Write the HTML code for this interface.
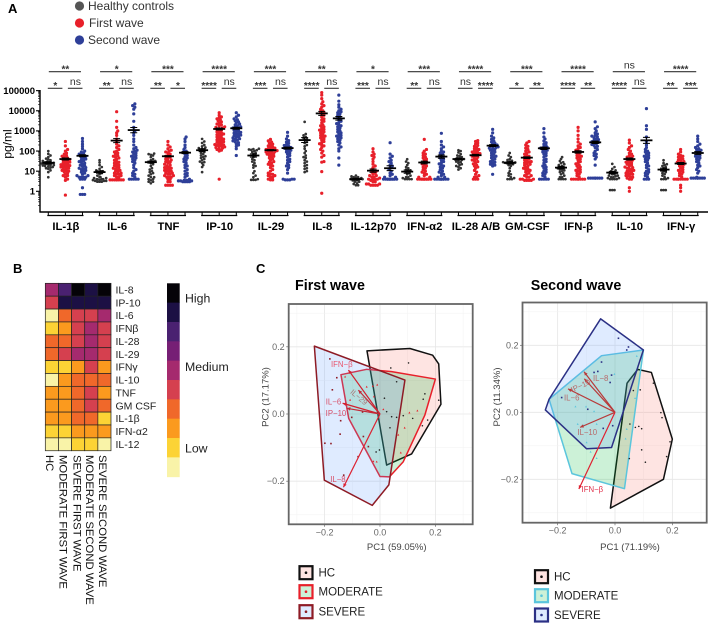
<!DOCTYPE html>
<html lang="en">
<head>
<meta charset="utf-8">
<title>Cytokine profiles figure</title>
<style>
html,body{margin:0;padding:0;background:#fff;}
svg{display:block;font-family:"Liberation Sans",Arial,sans-serif;}
</style>
</head>
<body>
<svg id="fig" width="708" height="623" viewBox="0 0 708 623" xmlns="http://www.w3.org/2000/svg">
  <rect width="708" height="623" fill="#fff"/>
  <text x="8" y="13" font-size="13" font-weight="bold">A</text>
  <text x="13" y="273" font-size="13" font-weight="bold">B</text>
  <text x="256" y="273" font-size="13" font-weight="bold">C</text>
  <g>
    <circle cx="79.5" cy="6" r="4.6" fill="#555"/>
    <text x="88" y="10" font-size="12" fill="#333">Healthy controls</text>
    <circle cx="79.5" cy="23" r="4.6" fill="#e8202a"/>
    <text x="89" y="27" font-size="12" fill="#333">First wave</text>
    <circle cx="79.5" cy="40" r="4.6" fill="#2e3f98"/>
    <text x="88" y="44" font-size="12" fill="#333">Second wave</text>
  </g>
  <g id="swarm"></g>
  <g id="heat"></g>
  <g id="pca1"></g>
  <g id="pca2"></g>
</svg>
<script>
/* ---------- Panel A data ---------- */
const cytokines = ["IL-1β","IL-6","TNF","IP-10","IL-29","IL-8","IL-12p70","IFN-α2","IL-28 A/B","GM-CSF","IFN-β","IL-10","IFN-γ"];
const yTicks = [1,10,100,1000,10000,100000];
const sigTop = ["**","*","***","****","***","**","*","***","****","***","****","ns","****"];
const sigLeft = ["*","**","**","****","***","****","***","**","ns","*","****","****","**"];
const sigRight = ["ns","ns","*","ns","ns","ns","ns","ns","****","**","**","ns","***"];
const meansHC = [26,9,28,110,60,350,4,9.5,40,26,15,8.5,12];
const meansFirst = [40,330,55,1250,110,7400,10.6,27,62,47,90,40,24];
const meansSecond = [58,1100,83,1350,140,4200,14,53,185,137,270,340,80];
const errHC = [.05,.06,.05,.07,.08,.12,.04,.08,.04,.06,.06,.06,.07];
const errFirst = [.05,.1,.03,.05,.03,.1,.08,.07,.04,.04,.06,.05,.05];
const errSecond = [.05,.13,.05,.05,.05,.09,.12,.08,.05,.06,.06,.15,.07];
const valuesHC = [
 [5,9,11,13,14,15,16,17,18,19,20,20,21,22,23,24,25,26,27,28,30,32,35,38,42,50,60,72,100],
 [3,3,3,3.3,3.3,3.3,3.6,3.6,4,4,4,4,4.5,4.5,5,5,6,7,8,9,10,10,11,13,16,20,27,35],
 [2.5,3,3,3.5,4,4,5,5,6,7,8,9,10,12,14,18,22,25,28,30,32,35,40,50,60,65,70,75],
 [9,16,20,25,28,30,35,40,45,50,55,60,70,80,90,100,110,120,130,140,150,170,200,250,300,400],
 [3.7,3.7,3.7,4,5,6,8,10,15,18,20,25,30,35,40,50,60,70,80,90,100,110,115,120,125,130],
 [9,10,13,14,18,20,25,30,35,45,50,60,80,100,130,170,200,250,300,350,400,450,500,600,700,2800],
 [2,2,2.3,2.5,3,3,3.5,3.5,4,4,4,4,4.2,4.5,4.5,5,5,5.5,6],
 [4,4,4,4,4.5,5,5,6,7,8,9,10,11,12,14,16,20,25,30,39],
 [12,14,16,18,20,22,25,28,30,33,36,38,40,42,45,50,55,60,70,85,100,110],
 [4,4,4,4.5,5,6,7,8,10,14,18,20,22,24,25,26,27,28,30,33,36,40,50,60,80],
 [4,4,4,4,5,5,6,7,8,9,10,11,12,13,14,15,16,18,20,22,25,28,32,40,50],
 [1.15,1.15,1.15,4,4,4,4,4.5,4.5,5,5,5.5,6,6,7,7,8,8,9,10,11,13,16,23],
 [1.15,1.15,1.15,4,4,4,4.5,5,6,7,8,9,10,11,12,14,16,18,20,22,25,35]
];
const valuesFirst = [
 [.65,3.5,4,5,6,6,7,8,9,10,10,11,12,13,14,15,16,17,18,19,20,21,22,24,26,28,30,32,35,38,40,45,50,55,60,70,80,100,120,180,300],
 [3.7,3.7,3.7,3.7,3.7,3.7,3.7,3.7,5,5,6,6,7,7,8,8,9,10,11,12,13,14,15,17,19,20,23,25,28,30,35,40,45,50,55,60,70,80,90,100,120,150,180,220,300,400,600,800,1000,1500,3000,9000],
 [2,2,2,2,3,3,4,4,5,5,5,6,6,7,7,8,8,9,10,10,11,12,13,14,15,16,18,20,22,25,28,30,33,36,40,45,50,55,60,70,80,90,100,110,130,160,200,300],
 [4,100,110,120,130,140,150,160,170,180,190,200,210,230,250,270,290,310,330,360,390,420,450,500,550,600,650,700,750,800,900,1000,1100,1200,1300,1400,1500,1600,1800,2000,2200,2500,2800,3200,3600,4000,4500,5000,6000,8000],
 [3.7,3.7,4,5,5,6,6,7,7,8,10,12,15,18,20,22,25,28,30,35,40,45,50,55,60,65,70,75,80,85,90,95,100,105,110,115,120,130,140,150,160,180,200,220,250,280,320,380],
 [.8,9.5,28,30,50,60,80,100,120,150,180,200,230,260,300,350,400,450,500,550,600,700,800,900,1000,1100,1200,1400,1600,1800,2000,2500,3000,3500,4000,5000,6000,7000,8000,9000,10000,12000,15000,18000,22000,28000,40000,60000,80000],
 [2,2,2,2,2.3,2.3,2.3,3,3,3.5,4,4,4,4,4.5,5,5,6,6,7,8,9,10,10,12,15,18,22,30,40,50,60,70,90,130],
 [4,4,4,4,4,4,4,4,4,4,4,4,5,5,6,7,8,9,10,12,14,16,18,20,23,26,30,35,40,45,50,60,70,80,100,120,380],
 [4,4,4,5,5,6,7,9,11,14,16,18,20,23,26,30,33,36,40,45,50,55,60,65,70,75,80,85,90,100,110,120,130,150,170,190,220,250,300,330],
 [3.5,3.5,3.5,3.5,4,4,4,5,5,6,6,7,8,9,10,11,12,13,14,16,18,20,22,24,26,28,30,33,36,40,45,50,55,60,70,80,90,100,120,140,170,200,250,300],
 [4,4,4,4,4,4,4,4,5,6,7,8,9,10,11,12,14,16,18,20,23,26,30,35,40,45,50,55,60,70,80,90,100,110,130,150,180,220,280,400,600,1000,1500],
 [1,1.5,4,4,4.5,5,5,6,6,7,7,8,8,9,10,10,11,12,13,14,15,16,18,20,22,24,26,28,30,33,36,40,45,50,55,60,70,80,100,120,150,180,250,350],
 [1,1.5,2,4,4,4,4,4,4,4,4,5,6,7,8,9,10,11,12,14,16,18,20,22,24,26,28,30,33,36,40,45,50,55,60,70,90,120]
];
const valuesSecond = [
 [.7,.7,.7,1.5,4,4,4,5,5,5,5,6,6,7,8,9,10,11,12,13,14,15,17,19,20,22,25,28,30,33,37,40,45,50,55,60,65,70,80,90,100,130,170,220,300,420],
 [4,4,4,4,4,5,6,7,8,10,12,15,20,25,30,35,40,45,50,55,60,70,80,90,100,110,130,150,200,300,400,600,800,1000,1500,3000,7000,12000,15000,18000,22000],
 [3,3,3,3,3.3,3.3,3.3,3.3,3.5,3.5,4,5,6,7,8,10,12,15,18,20,25,30,35,40,45,50,60,70,80,90,100,120,150,200,300,400,500],
 [60,130,170,200,230,260,290,320,350,380,410,450,490,530,570,620,670,720,780,850,920,1000,1100,1200,1300,1400,1500,1600,1800,2000,2200,2500,2800,3200,3600,4000,5000,6000,8000],
 [3.7,3.7,3.7,4,4,4,8,12,15,18,20,25,30,35,40,50,60,70,80,90,100,110,120,130,140,150,160,170,190,210,240,280,330,400,550,850],
 [20,45,100,130,160,200,250,300,350,400,450,500,550,600,700,800,900,1000,1200,1400,1600,1800,2000,2300,2600,3000,3500,4000,4500,5000,6000,7000,8000,9000,10000,12000,15000,20000,30000,60000],
 [4,4,4,4,4,4,4,4,4,4,4,4,5,5,6,7,8,10,12,15,18,20,25,30,35,45,55,70,260],
 [4,4,4,4,4,4,4,4,4,4,5,5,6,7,8,9,10,12,14,16,18,20,23,26,30,35,40,45,50,60,70,80,90,100,130,160,200,300,760],
 [7,18,20,22,25,28,30,35,40,45,50,55,60,70,80,90,100,110,120,130,140,150,160,170,180,190,200,220,250,280,320,380,450,550,800,1200],
 [4,4,4,4,4,5,6,7,8,9,10,12,14,16,18,20,25,30,35,40,50,60,70,80,90,100,110,120,130,140,150,170,190,220,260,320,400,500,800,1300],
 [4.5,4.5,4.5,4.5,4.5,4.5,4.5,4.5,20,40,50,60,70,80,100,120,150,170,190,210,230,250,270,290,310,340,370,400,450,500,550,600,700,800,1000,1300,1600,2800],
 [4,4,4,5,6,7,8,9,10,12,15,18,20,25,30,35,40,45,50,55,60,70,80,90,100,120,150,200,300,500,1200,1800,12800],
 [4.5,4.5,4.5,4.5,4.5,4.5,4.5,4.5,5,8,10,12,15,18,20,25,30,35,40,45,50,55,60,70,80,90,100,110,120,130,150,180,220,300,400,550]
];
/* ---------- Panel B data ---------- */
const heatRows = ["IL-8","IP-10","IL-6","IFNβ","IL-28","IL-29","IFNγ","IL-10","TNF","GM CSF","IL-1β","IFN-α2","IL-12"];
const heatCols = ["HC","MODERATE FIRST WAVE","SEVERE FIRST WAVE","MODERATE SECOND WAVE","SEVERE SECOND WAVE"];
const heatLevels = [
 [5,7,9,8,9],[4,8,8,8,8],[0,3,4,4,5],[1,2,4,5,4],[3,3,4,5,4],[3,4,5,5,4],[1,1,2,4,2],
 [0,2,3,3,3],[2,2,3,4,2],[2,2,3,4,3],[2,2,3,3,1],[1,1,2,2,2],[0,0,1,1,0]
];
const heatPalette = ["#f9f3a8","#fcd335","#fb9a1e","#f0682a","#d5404f","#a52a6e","#761f75","#4a2171","#1c1044","#050308"];
/* ---------- Panel C data ---------- */
const pcTicks = [-0.2,0,0.2];
const hullHC1 = [[-.047,.188],[.108,.195],[.19,.175],[.212,.149],[.22,.029],[.114,-.119],[.024,-.152]];
const hullMod1 = [[-.141,.117],[-.048,.133],[.042,.126],[.2,.104],[.162,-.003],[.084,-.142],[.034,-.187],[0,-.186],[-.113,-.013]];
const hullSev1 = [[-.237,.202],[.09,.101],[.032,-.211],[-.028,-.272],[-.201,-.197]];
const ptsHC1 = [[.039,.137],[.103,.152],[.162,.06],[.156,.044],[.212,.041],[.06,.096],[.016,.047],[.024,.007],[.042,-.008],[.084,-.005],[.118,-.013],[.172,-.018],[.153,-.035],[.036,-.041],[.06,-.01],[-.014,-.113],[-.002,-.107]];
const ptsMod1 = [[-.01,.087],[-.048,.081],[-.026,.083],[-.022,.052],[.012,.014],[.106,.004],[.135,.01],[.089,-.041],[.066,-.062],[.075,-.115],[-.012,-.142],[-.024,-.141],[-.126,.111],[-.108,.042]];
const ptsSev1 = [[-.181,.164],[-.156,.108],[-.172,.072],[-.142,-.02],[-.144,-.06],[-.199,-.087],[-.177,-.088],[-.131,-.182],[-.06,-.067],[-.042,-.097],[-.102,-.01],[-.063,.006],[-.079,-.127]];
const loadNames1 = ["IFN−β","IL−29","IL−6","IP−10","IL−8"];
const loadTips1 = [[-.114,.131],[-.078,.071],[-.135,.032],[-.12,.017],[-.132,-.218]];
const loadLabels1 = [[-.138,.148],[-.082,.052],[-.168,.037],[-.159,.002],[-.152,-.194]];
const loadAngles1 = [0,40,0,0,0];
const hullHC2 = [[.079,.128],[.127,.119],[.2,-.08],[.169,-.2],[-.016,-.286],[.042,.087]];
const hullMod2 = [[-.047,.169],[.099,.186],[.033,-.228],[-.15,-.183],[-.23,.039]];
const hullSev2 = [[-.05,.279],[.099,.186],[-.012,-.105],[-.099,-.109],[-.243,.007],[-.23,.039]];
const ptsHC2 = [[.064,.065],[.088,.067],[.134,.087],[.16,-.001],[.164,-.016],[.052,-.035],[.071,-.045],[.083,-.042],[.093,-.049],[.192,-.088],[.093,-.112],[.106,-.149],[.05,-.138],[.18,-.132]];
const ptsMod2 = [[.076,.168],[-.002,.114],[-.138,.017],[-.101,.017],[-.073,.003],[-.13,-.035],[-.11,-.039],[-.064,-.035],[.041,-.05],[.037,-.079],[-.085,-.118],[-.064,-.137],[.07,.042],[-.099,-.09]];
const ptsSev2 = [[.012,.221],[.047,.195],[.041,.186],[-.073,.119],[-.06,.122],[-.012,.111],[-.017,.089],[-.186,.044],[-.095,.009],[-.008,-.04],[-.041,-.048],[-.047,.15]];
const loadNames2 = ["IL−8","IP−10","IL−6","IL−10","IFN−β"];
const loadTips2 = [[-.108,.121],[-.107,.1],[-.164,.07],[-.122,-.045],[-.126,-.229]];
const loadLabels2 = [[-.05,.101],[-.116,.08],[-.151,.043],[-.097,-.059],[-.079,-.23]];
const loadAngles2 = [0,-25,0,0,0];

const NS = "http://www.w3.org/2000/svg";
function mk(tag, parent, attrs, text){
  const el = document.createElementNS(NS, tag);
  for (const k in attrs) el.setAttribute(k, attrs[k]);
  if (text !== undefined) el.textContent = text;
  parent.appendChild(el);
  return el;
}
function fmt(v){ return v.toFixed(2); }

/* ---------- Panel A ---------- */
(function(){
  const root = document.getElementById("swarm");
  const xBand = i => 48.3 + 17.09 * i;
  const yLog = v => 191.3 - Math.log10(v) * 20.13;
  const groupColors = ["#333","#e8202a","#2e3f98"];
  const groupNames = ["healthy","first-wave","second-wave"];
  const sets = [valuesHC, valuesFirst, valuesSecond];
  const meanSets = [meansHC, meansFirst, meansSecond];
  const errSets = [errHC, errFirst, errSecond];

  /* y axis */
  let el = mk("line", root, {x1:40,x2:40,y1:90,y2:212.5,stroke:"#000","stroke-width":1.4});
  
  
  yTicks.forEach(t => {
    const y = yLog(t);
    const tick = mk("line", root, {x1:36,x2:40,y1:y,y2:y,stroke:"#000","stroke-width":1.1});
    
    
    const lab = mk("text", root, {x:35,y:y+3.3,"font-size":9.5,"font-weight":"bold","text-anchor":"end"}, String(t));
    
    
  });
  [0.1,1,10,100,1000,10000].forEach(d => {
    [2,3,4,5,6,7,8,9].forEach(m => {
      const y = yLog(d*m);
      const tick = mk("line", root, {x1:38,x2:40,y1:y,y2:y,stroke:"#000","stroke-width":.6});
      
      
    });
  });
  el = mk("text", root, {transform:"translate(11.5,144) rotate(-90)","font-size":12,"text-anchor":"middle"}, "pg/ml");
  
  

  /* x axis */
  el = mk("line", root, {x1:39.5,x2:708,y1:212,y2:212,stroke:"#000","stroke-width":1.4});
  
  

  cytokines.forEach((name, c) => {
    const xs = [0,1,2].map(g => xBand(c*3+g));
    /* category bracket */
    const br = mk("line", root, {x1:xs[0]-1,x2:xs[2]+1,y1:215.5,y2:215.5,stroke:"#000","stroke-width":1.3});
    
    
    xs.forEach(x => {
      const t = mk("line", root, {x1:x,x2:x,y1:212,y2:215.5,stroke:"#000","stroke-width":1});
      
      
    });
    const lab = mk("text", root, {x:xs[1]+0.5,y:230,"font-size":11.3,"font-weight":"bold","text-anchor":"middle"}, name);
    
    

    /* significance */
    const sig = (x1,x2,y,txt,cx) => {
      const l = mk("line", root, {x1:x1,x2:x2,y1:y,y2:y,stroke:"#333","stroke-width":1.1});
      
      
      const isNs = txt === "ns";
      const s = mk("text", root, {x:cx,y:isNs ? y-3.4 : y+0.8,"font-size":isNs ? 10.5 : 10,"font-weight":isNs ? "normal" : "bold","text-anchor":"middle",fill:"#333"}, txt);
      
      
    };
    sig(xs[0]+.5, xs[2]-1.5, 71.7, sigTop[c], xs[1]);
    sig(xs[0]-.5, xs[1]-3, 88.3, sigLeft[c], (xs[0]+xs[1])/2-1.5);
    sig(xs[1]+2.5, xs[2], 88.3, sigRight[c], (xs[1]+xs[2])/2+1.5);

    /* swarm dots */
    [0,1,2].forEach(g => {
      const cx = xs[g];
      const vals = sets[g][c].slice().sort((a,b)=>a-b);
      const placed = [];
      const d = 2.2;
      vals.forEach((v,n) => {
        const y = yLog(v);
        let off = null;
        for (let k = 0; k < 13; k++){
          const cand = (k % 2 ? 1 : -1) * Math.ceil(k/2) * 1.1;
          if (!placed.some(p => (p[0]-cand)*(p[0]-cand)+(p[1]-y)*(p[1]-y) < d*d)) { off = cand; break; }
        }
        /* a full row folds back over itself instead of running into the next column */
        if (off === null) off = (n % 2 ? 1 : -1) * (n % 7) * 0.9;
        placed.push([off,y]);
        const dot = mk("circle", root, {cx:fmt(cx+off),cy:fmt(y),r:g===0?1.35:1.6,fill:groupColors[g]});
        
        
      });
    });
    [0,1,2].forEach(g => {
      const cx = xs[g];
      /* mean and error */
      const m = meanSets[g][c], e = errSets[g][c];
      const ym = yLog(m);
      const up = yLog(m) - e*20.13, lo = yLog(m) + e*20.13;
      const mb = mk("line", root, {x1:cx-6,x2:cx+6,y1:ym,y2:ym,stroke:"#000","stroke-width":1.8});
      
      
      const eb = mk("path", root, {d:`M${fmt(cx)} ${fmt(up)}V${fmt(lo)}M${fmt(cx-3.5)} ${fmt(up)}H${fmt(cx+3.5)}M${fmt(cx-3.5)} ${fmt(lo)}H${fmt(cx+3.5)}`,stroke:"#000","stroke-width":1,fill:"none"});
      
      
    });
  });
})();

/* ---------- Panel B ---------- */
(function(){
  const root = document.getElementById("heat");
  const x0 = 45.3, y0 = 283.3, cw = 13.14, ch = 12.88;
  const xC = j => x0 + j*cw;
  const yR = i => y0 + i*ch;
  heatLevels.forEach((row,i) => {
    row.forEach((lvl,j) => {
      const r = mk("rect", root, {x:fmt(xC(j)),y:fmt(yR(i)),width:cw,height:ch,fill:heatPalette[lvl],stroke:"#222","stroke-width":.7});
      
      
    });
    const t = mk("text", root, {x:115.5,y:fmt(yR(i)+ch/2+3.7),"font-size":10.5,fill:"#222"}, heatRows[i]);
    
    
  });
  heatCols.forEach((name,j) => {
    const x = 46 + j*13.7 - (j > 2 ? 0.9*(j-2) : 0);
    const t = mk("text", root, {transform:`translate(${fmt(x)},455) rotate(90)`,"font-size":11.3,fill:"#111"}, name);
    
    
  });
  /* colour bar, top to bottom from darkest */
  for (let k = 0; k < heatPalette.length; k++){
    const seg = mk("rect", root, {x:167,y:fmt(283.3+k*19.34),width:12.7,height:19.8,fill:heatPalette[heatPalette.length-1-k]});
    
    
  }
  [["High",302.5],["Medium",371],["Low",452.5]].forEach(p => {
    const t = mk("text", root, {x:185,y:p[1],"font-size":12.3,fill:"#222"}, p[0]);
    
    
  });
})();

/* ---------- Panel C ---------- */
function pca(rootId, cfg){
  const root = document.getElementById(rootId);
  const sx = v => cfg.x0 + v*cfg.kx;
  const sy = v => cfg.y0 - v*cfg.ky;
  let el = mk("text", root, {x:cfg.titleX,y:290,"font-size":14.3,"font-weight":"bold"}, cfg.title);
  
  
  /* grid */
  [-0.3,-0.2,-0.1,0,0.1,0.2,0.3].forEach((v,i) => {
    const major = i % 2 === 1;
    const X = sx(v), Y = sy(v);
    if (X > cfg.l && X < cfg.r){
      const g = mk("line", root, {x1:X,x2:X,y1:cfg.t,y2:cfg.b,stroke:major?"#e6e6e6":"#f2f2f2","stroke-width":major?.8:.5});
      
      
    }
    if (Y > cfg.t && Y < cfg.b){
      const g = mk("line", root, {x1:cfg.l,x2:cfg.r,y1:Y,y2:Y,stroke:major?"#e6e6e6":"#f2f2f2","stroke-width":major?.8:.5});
      
      
    }
  });
  /* hulls */
  const hulls = [cfg.hullHC, cfg.hullMod, cfg.hullSev];
  const fills = ["#F8766D","#00BA38","#619CFF"];
  hulls.forEach((h,i) => {
    const p = mk("polygon", root, {points:h.map(q => fmt(sx(q[0]))+","+fmt(sy(q[1]))).join(" "),fill:fills[i],"fill-opacity":.2,stroke:cfg.strokes[i],"stroke-width":1.5,"stroke-linejoin":"round"});
    
    
  });
  /* points */
  cfg.ptsHC.forEach(q => {
    const c = mk("circle", root, {cx:sx(q[0]),cy:sy(q[1]),r:.8,fill:"#222"});
    
    
  });
  cfg.ptsMod.forEach(q => {
    const X = sx(q[0]), Y = sy(q[1]);
    const c = mk("polygon", root, {points:`${fmt(X)},${fmt(Y-1.1)} ${fmt(X-1)},${fmt(Y+.8)} ${fmt(X+1)},${fmt(Y+.8)}`,fill:cfg.strokes[1]});
    
    
  });
  cfg.ptsSev.forEach(q => {
    const X = sx(q[0]), Y = sy(q[1]);
    const c = mk("rect", root, {x:X-.8,y:Y-.8,width:1.6,height:1.6,fill:cfg.strokes[2]});
    
    
  });
  /* loadings */
  cfg.tips.forEach((tip,i) => {
    const ox = sx(0), oy = sy(0), tx = sx(tip[0]), ty = sy(tip[1]);
    const a = Math.atan2(ty-oy, tx-ox);
    const L = 4;
    const pts = [[tx,ty],[tx-L*Math.cos(a-.45),ty-L*Math.sin(a-.45)],[tx-L*Math.cos(a+.45),ty-L*Math.sin(a+.45)]];
    const shaft = mk("line", root, {x1:ox,y1:oy,x2:tx,y2:ty,stroke:cfg.arrowColors[i],"stroke-width":1.2});
    
    
    const head = mk("polygon", root, {points:pts.map(p=>fmt(p[0])+","+fmt(p[1])).join(" "),fill:cfg.arrowColors[i]});
    
    
    const lx = sx(cfg.labels[i][0]), ly = sy(cfg.labels[i][1]);
    const t = mk("text", root, {transform:`translate(${fmt(lx)},${fmt(ly+2.7)}) rotate(${cfg.angles[i]})`,"font-size":7.8,"text-anchor":"middle",fill:cfg.labelColors[i]}, cfg.names[i]);
    
    
  });
  /* frame */
  el = mk("rect", root, {x:cfg.l,y:cfg.t,width:cfg.r-cfg.l,height:cfg.b-cfg.t,fill:"none",stroke:"#666","stroke-width":1.8});
  
  
  /* ticks */
  pcTicks.forEach(v => {
    const lab = v === 0 ? "0.0" : (v < 0 ? "−" : "") + Math.abs(v).toFixed(1);
    const X = sx(v), Y = sy(v);
    const tk = mk("line", root, {x1:X,x2:X,y1:cfg.b,y2:cfg.b+2.5,stroke:"#666","stroke-width":.7});
    
    
    const tl = mk("text", root, {x:X,y:cfg.b+11,"font-size":9,"text-anchor":"middle",fill:"#666"}, lab);
    
    
    const tk2 = mk("line", root, {x1:cfg.l-2.5,x2:cfg.l,y1:Y,y2:Y,stroke:"#666","stroke-width":.7});
    
    
    const tl2 = mk("text", root, {x:cfg.l-4,y:Y+3,"font-size":9,"text-anchor":"end",fill:"#666"}, lab);
    
    
  });
  el = mk("text", root, {x:cfg.xTitleX,y:550,"font-size":9.5,"text-anchor":"middle",fill:"#444"}, cfg.xTitle);
  
  
  el = mk("text", root, {transform:`translate(${cfg.yTitleX},397) rotate(-90)`,"font-size":9.5,"text-anchor":"middle",fill:"#444"}, cfg.yTitle);
  
  
  /* legend */
  ["HC","MODERATE","SEVERE"].forEach((n,i) => {
    const yc = cfg.legendY[i];
    const box = mk("rect", root, {x:cfg.legendX,y:yc-6.5,width:13,height:13,fill:fills[i],"fill-opacity":.2,stroke:cfg.strokes[i],"stroke-width":2.2});
    
    
    const dot = mk("circle", root, {cx:cfg.legendX+6.5,cy:yc,r:1.3,fill:cfg.strokes[i]});
    
    
    const t = mk("text", root, {x:cfg.legendX+19,y:yc+4,"font-size":11.5,fill:"#222"}, n);
    
    
  });
}
pca("pca1", {title:"First wave",titleX:295,x0:380,kx:277,y0:414,ky:336,l:288.7,r:472.7,t:304,b:524.3,
  hullHC:hullHC1,hullMod:hullMod1,hullSev:hullSev1,ptsHC:ptsHC1,ptsMod:ptsMod1,ptsSev:ptsSev1,
  tips:loadTips1,labels:loadLabels1,names:loadNames1,angles:loadAngles1,
  strokes:["#111","#e8202a","#8e1b25"],
  arrowColors:["#d3202f","#c22a38","#d3202f","#c22a38","#dc2030"],
  labelColors:["#e8556e","#a87878","#d8506a","#d8506a","#d8506a"],
  xTitle:"PC1 (59.05%)",xTitleX:396.7,yTitle:"PC2 (17.17%)",yTitleX:268.5,
  legendX:299.5,legendY:[572.7,591.7,611.7]});
pca("pca2", {title:"Second wave",titleX:530.7,x0:615,kx:286.7,y0:412.3,ky:335,l:522.5,r:706.7,t:302.5,b:522.7,
  hullHC:hullHC2,hullMod:hullMod2,hullSev:hullSev2,ptsHC:ptsHC2,ptsMod:ptsMod2,ptsSev:ptsSev2,
  tips:loadTips2,labels:loadLabels2,names:loadNames2,angles:loadAngles2,
  strokes:["#111","#5bc5dc","#2b3085"],
  arrowColors:["#b83a3a","#b83a3a","#b83a3a","#b83a3a","#e02030"],
  labelColors:["#b86a6a","#b86a6a","#b86a6a","#b86a6a","#e0304a"],
  xTitle:"PC1 (71.19%)",xTitleX:630,yTitle:"PC2 (11.34%)",yTitleX:500,
  legendX:535,legendY:[576.7,595.7,615]});
</script>
</body>
</html>
